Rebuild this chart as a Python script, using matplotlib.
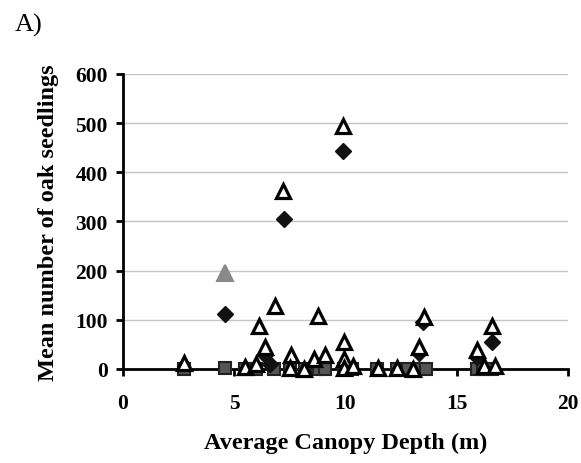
import matplotlib
matplotlib.use("Agg")
import matplotlib.pyplot as plt

# ---- data ----
tri_x = [2.74, 5.48, 5.96, 6.11, 6.38, 6.83, 7.2, 7.55, 7.5, 8.15, 8.58, 8.78, 9.08,
         9.87, 9.95, 9.95, 9.95, 10.35, 11.47, 12.3, 13.05, 13.3, 13.53, 15.9, 16.22,
         16.57, 16.7]
tri_y = [12, 4, 10, 88, 45, 129, 362, 28, 3, 0, 20, 108, 28,
         494, 55, 20, 2, 7, 2, 3, 0, 45, 106, 38, 7,
         88, 7]

gray_tri_x = [4.58]
gray_tri_y = [196]

dia_x = [4.58, 7.25, 9.87, 6.4, 13.5, 13.3, 16.6, 15.9, 6.6]
dia_y = [112, 305, 444, 28, 95, 32, 54, 25, 10]

sq_x = [2.74, 4.58, 5.5, 6.0, 6.8, 7.5, 8.2, 8.8, 9.1, 9.95, 10.3, 11.4, 12.3,
        12.8, 13.2, 13.6, 15.9, 16.2, 16.6]
sq_y = [0, 3, 0, 0, 0, 0, 0, 0, 0, 0, 0, 0, 0,
        0, 0, 0, 0, 0, 0]

x_ticks = [0, 5, 10, 15, 20]
y_ticks = [0, 100, 200, 300, 400, 500, 600]

plt.rcParams['font.family'] = ['Liberation Serif', 'DejaVu Serif']

fig = plt.figure(figsize=(5.81, 4.64), dpi=100)
ax = fig.add_axes([0.2117, 0.2026, 0.7659, 0.6358])

ax.set_xlim(0, 20)
ax.set_ylim(0, 600)

for yv in y_ticks[1:]:
    ax.axhline(yv, color='#c4c4c4', lw=1.0, zorder=0)

ax.plot(sq_x, sq_y, ls='none', marker='s', ms=9, mfc='#555555', mec='#222222',
        mew=1.5, clip_on=False, zorder=3)
ax.plot(dia_x, dia_y, ls='none', marker='D', ms=8, mfc='#111111', mec='#111111',
        mew=1, clip_on=False, zorder=4)
ax.plot(tri_x, tri_y, ls='none', marker='^', ms=10.5, mfc='white', mec='black',
        mew=2.3, clip_on=False, zorder=5)
ax.plot(gray_tri_x, gray_tri_y, ls='none', marker='^', ms=11.5, mfc='#8a8a8a',
        mec='#8a8a8a', mew=1.5, clip_on=False, zorder=5)

for s in ['top', 'right']:
    ax.spines[s].set_visible(False)
for s in ['left', 'bottom']:
    ax.spines[s].set_linewidth(2)
    ax.spines[s].set_color('black')

ax.set_xticks(x_ticks)
ax.set_yticks(y_ticks)
ax.tick_params(axis='both', direction='out', length=5, width=2, labelsize=15.5)
ax.tick_params(axis='x', pad=12)
ax.tick_params(axis='y', pad=6)
for lab in ax.get_xticklabels() + ax.get_yticklabels():
    lab.set_fontweight('bold')

ax.set_xlabel('Average Canopy Depth (m)', fontsize=17.5, fontweight='bold', labelpad=14)
ax.set_ylabel('Mean number of oak seedlings', fontsize=17.5, fontweight='bold', labelpad=12)

fig.text(0.026, 0.97, 'A)', fontsize=19, va='top', ha='left')

fig.savefig('out.png', dpi=100)
